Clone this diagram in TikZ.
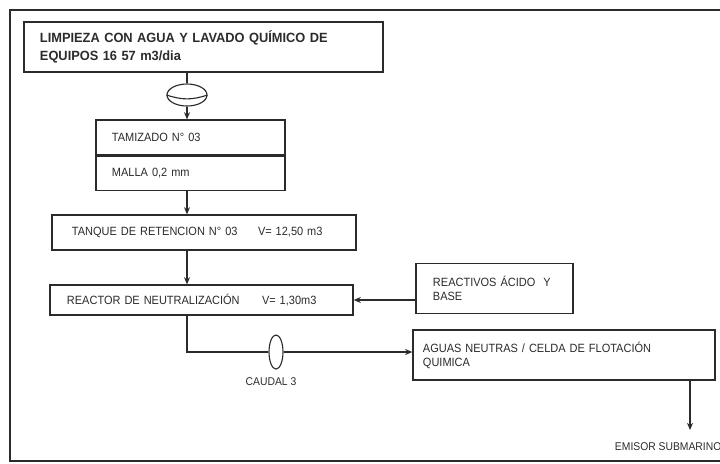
\documentclass[tikz,border=0pt]{standalone}
\usepackage{fontspec}
\setmainfont{Liberation Sans}
\newfontfamily\narrowfont[FakeStretch=0.92]{Liberation Sans}
\newfontfamily\titlefont[FakeStretch=0.96]{Liberation Sans}
\usetikzlibrary{arrows.meta,positioning,calc,shapes.geometric}
\definecolor{inkgray}{HTML}{2B2B2B}

\begin{document}
\begin{tikzpicture}[x=0.025cm, y=-0.025cm,
  every node/.style={font=\narrowfont\fontsize{8.5}{10}\selectfont, text=inkgray},
  box/.style={rectangle, draw=inkgray, line width=0.9pt, align=left, inner ysep=0pt},
  flow/.style={-{Stealth[length=1.8mm, width=1.5mm]}, line width=0.8pt, draw=inkgray},
  pipe/.style={line width=0.8pt, draw=inkgray},
  tag/.style={font=\narrowfont\fontsize{8}{9.5}\selectfont}
]
\useasboundingbox (0,0) rectangle (720,463);

% Frame
\draw[line width=1.4pt, inkgray] (740,10) -- (10,10) -- (10,461) -- (740,461);

% Main line
\coordinate (spine) at (187,0);
\coordinate (drop) at (690,0);

% Boxes
\node[box, minimum width=8.975cm, minimum height=1.25cm, inner xsep=0.4cm, text width=8.175cm,
  font=\titlefont\bfseries\fontsize{9.5}{12.5}\selectfont] (limpieza) at (203.5,47)
  {LIMPIEZA CON AGUA Y LAVADO QUÍMICO DE\\EQUIPOS 16 57 m3/dia};
\node[ellipse, draw=inkgray, line width=0.8pt, minimum width=1cm, minimum height=0.55cm, inner sep=0pt] (valve) at (187,95) {};
\node[box, minimum width=4.725cm, minimum height=0.875cm, inner xsep=0.4cm, text width=3.925cm] (tamiz) at (190.5,137.5) {TAMIZADO N° 03};
\node[box, minimum width=4.725cm, minimum height=0.85cm, inner xsep=0.4cm, text width=3.925cm, below=0pt of tamiz] (malla) {MALLA 0,2 mm};
\node[box, minimum width=7.6cm, minimum height=0.875cm, inner xsep=0.5cm, text width=6.6cm] (tanque) at (204,232.5)
  {\makebox[4.65cm][l]{TANQUE DE RETENCION N° 03}V= 12,50 m3};
\node[box, minimum width=7.575cm, minimum height=0.75cm, inner xsep=0.425cm, text width=6.725cm] (reactor) at (201.5,300)
  {\makebox[4.875cm][l]{REACTOR DE NEUTRALIZACIÓN}V= 1,30m3};
\node[box, minimum width=3.925cm, minimum height=1.25cm, inner xsep=0.425cm, text width=3.075cm] (reactivos) at (494.5,288.5)
  {REACTIVOS ÁCIDO\ \ Y\\BASE};
\node[box, minimum width=7.55cm, minimum height=1.25cm, inner xsep=0.25cm, text width=7.05cm] (aguas) at (564,355)
  {AGUAS NEUTRAS / CELDA DE FLOTACIÓN\\QUIMICA};
\node[ellipse, draw=inkgray, line width=0.8pt, minimum width=0.35cm, minimum height=0.85cm, inner sep=0pt] (caudal) at (276,352) {};
\node[tag] (caudaltag) at (271,382) {CAUDAL 3};
\node[tag, anchor=west] (emisor) at (610,447) {EMISOR SUBMARINO};

% Valve inner curve
\draw[pipe] (valve.west) .. controls ($(valve.south west)+(10,-3)$) and ($(valve.south east)+(-10,-3)$) .. (valve.east);

% Connections
\draw[pipe] (spine |- limpieza.south) -- (valve.north);
\draw[flow] (valve.south) -- (spine |- tamiz.north);
\draw[flow] (spine |- malla.south) -- (spine |- tanque.north);
\draw[flow] (spine |- tanque.south) -- (spine |- reactor.north);
\draw[flow] (reactivos.west |- reactor.east) -- (reactor.east);
\draw[pipe] (spine |- reactor.south) |- (caudal.west);
\draw[flow] (caudal.east) -- (aguas.west |- caudal.east);
\draw[flow, shorten >=2mm] (drop |- aguas.south) -- (drop |- emisor.north);

\end{tikzpicture}
\end{document}
